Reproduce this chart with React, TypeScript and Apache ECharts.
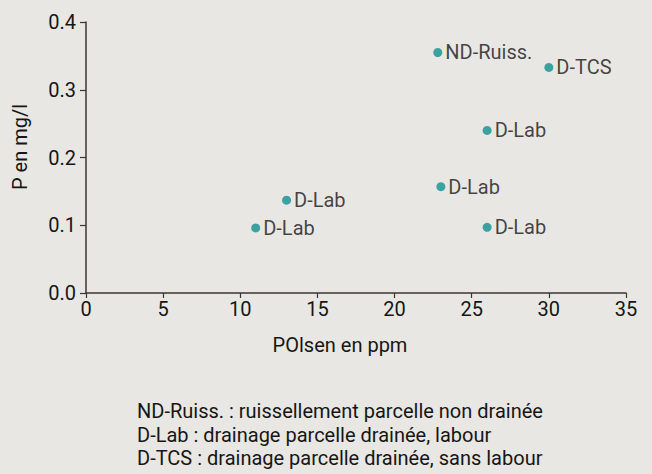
import React, { useEffect, useRef } from "react";
import * as echarts from "echarts";

const pointNames = ["ND-Ruiss.", "D-TCS", "D-Lab", "D-Lab", "D-Lab", "D-Lab", "D-Lab"];
const pOlsen = [22.8, 30, 26, 23, 26, 13, 11];
const pMgL = [0.355, 0.333, 0.24, 0.157, 0.097, 0.137, 0.096];
const xTicks = { min: 0, max: 35, interval: 5 };
const yTicks = { min: 0, max: 0.4, interval: 0.1 };
const xTitle = "POlsen en ppm";
const yTitle = "P en mg/l";
const notes = [
  "ND-Ruiss. : ruissellement parcelle non drainée",
  "D-Lab : drainage parcelle drainée, labour",
  "D-TCS : drainage parcelle drainée, sans labour",
];

const FONT = "Roboto, sans-serif";
const INK = "#161616";
const FS = 20;

export default function App() {
  const ref = useRef<HTMLDivElement>(null);
  useEffect(() => {
    if (!ref.current) return;
    const chart = echarts.init(ref.current, null, { renderer: "svg" });
    const data = pOlsen.map((x, i) => ({ value: [x, pMgL[i]], name: pointNames[i] }));
    chart.setOption({
      animation: false,
      backgroundColor: "#e9e7e3",
      grid: { left: 86, right: 26, top: 22, bottom: 181, containLabel: false },
      xAxis: {
        type: "value",
        min: xTicks.min,
        max: xTicks.max,
        interval: xTicks.interval,
        axisLine: { show: true, lineStyle: { color: "#3a3632", width: 1.5 } },
        axisTick: { show: true, length: 5, lineStyle: { color: "#3a3632", width: 1.2 } },
        axisLabel: { color: INK, fontSize: FS, fontFamily: FONT, margin: 6 },
        splitLine: { show: false },
      },
      yAxis: {
        type: "value",
        min: yTicks.min,
        max: yTicks.max,
        interval: yTicks.interval,
        axisLine: { show: true, lineStyle: { color: "#3a3632", width: 1.5 } },
        axisTick: { show: true, length: 6, lineStyle: { color: "#3a3632", width: 1.2 } },
        axisLabel: {
          color: INK,
          fontSize: FS,
          fontFamily: FONT,
          margin: 10,
          formatter: (v: number) => v.toFixed(1),
        },
        splitLine: { show: false },
      },
      graphic: [
        {
          type: "text",
          x: 20,
          y: 147,
          rotation: Math.PI / 2,
          style: {
            text: yTitle,
            fill: INK,
            font: `${FS}px ${FONT}`,
            textAlign: "center",
            textVerticalAlign: "middle",
          },
        },
        {
          type: "text",
          x: 340,
          y: 345,
          style: {
            text: xTitle,
            fill: INK,
            font: `${FS}px ${FONT}`,
            textAlign: "center",
            textVerticalAlign: "middle",
          },
        },
        ...notes.map((t, i) => ({
          type: "text",
          x: 137,
          y: 411 + i * 23.5,
          style: {
            text: t,
            fill: INK,
            font: `${FS}px ${FONT}`,
            textAlign: "left",
            textVerticalAlign: "middle",
          },
        })),
      ],
      series: [
        {
          type: "scatter",
          data,
          symbol: "circle",
          symbolSize: 9,
          itemStyle: { color: "#0e918e" },
          label: {
            show: true,
            position: "right",
            distance: 3,
            formatter: (p: any) => p.name,
            color: INK,
            fontSize: FS,
            fontFamily: FONT,
          },
        },
      ],
    });
    return () => chart.dispose();
  }, []);
  return (
    <div
      ref={ref}
      style={{ position: "fixed", left: 0, top: 0, width: 652, height: 474 }}
    />
  );
}
